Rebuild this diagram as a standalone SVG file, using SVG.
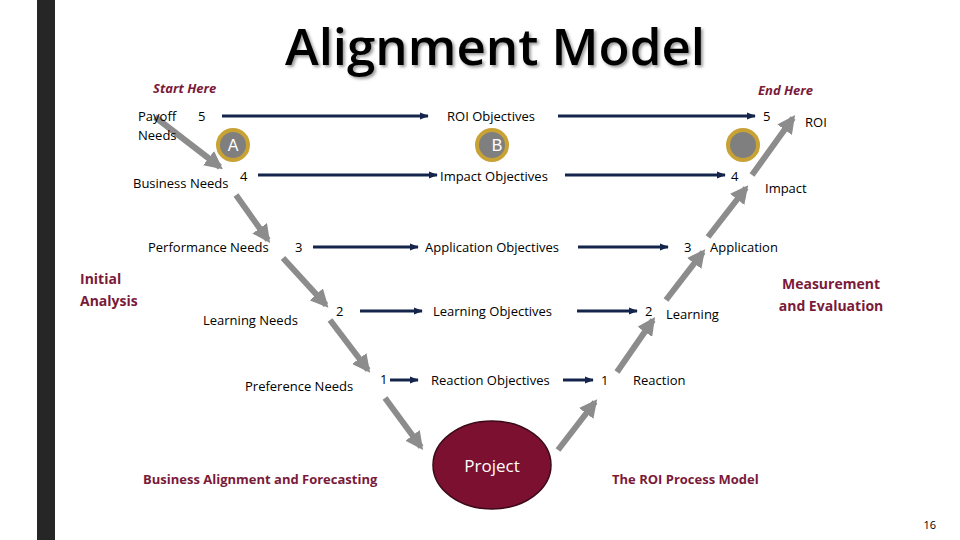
<svg xmlns="http://www.w3.org/2000/svg" width="960" height="540" viewBox="0 0 960 540">
<defs>
<marker id="nv" viewBox="0 0 10 10" refX="9" refY="5" markerWidth="3" markerHeight="3" orient="auto"><path d="M0,1 L10,5 L0,9 z" fill="#14244a"/></marker>
<marker id="gr" viewBox="0 0 10 10" refX="8" refY="5" markerWidth="3" markerHeight="3" orient="auto"><path d="M0,0 L10,5 L0,10 z" fill="#8c8c8c"/></marker>
<filter id="sh"><feDropShadow dx="2" dy="2" stdDeviation="1.5" flood-color="#000" flood-opacity="0.4"/></filter>
</defs>
<style>
text{font-family:"Open Sans","Noto Sans",sans-serif;font-size:13px;fill:#000}
.r{fill:#7a1a3a;font-weight:bold}
.i{font-style:italic}
.nv{stroke:#14244a;stroke-width:3;marker-end:url(#nv)}
.gr{stroke:#8c8c8c;stroke-width:6;marker-end:url(#gr)}
.c{fill:#7f7f7f;stroke:#c9a235;stroke-width:4}
</style>
<rect width="960" height="540" fill="#fff"/>
<rect x="37" y="0" width="18" height="540" fill="#262626"/>
<text x="495" y="65" text-anchor="middle" style="font-size:51px;font-weight:600" filter="url(#sh)">Alignment Model</text>
<text x="153" y="93" class="r i">Start Here</text>
<text x="758" y="95" class="r i">End Here</text>
<g id="connectors">
<line class="nv" x1="222" y1="116" x2="428" y2="116"/><line class="nv" x1="558" y1="116" x2="755" y2="116"/>
<line class="nv" x1="258" y1="175" x2="437" y2="175"/><line class="nv" x1="565" y1="175" x2="725" y2="175"/>
<line class="nv" x1="313" y1="247" x2="418" y2="247"/><line class="nv" x1="578" y1="247" x2="668" y2="247"/>
<line class="nv" x1="360" y1="311" x2="422" y2="311"/><line class="nv" x1="577" y1="311" x2="637" y2="311"/>
<line class="nv" x1="390" y1="380" x2="418" y2="380"/><line class="nv" x1="563" y1="380" x2="593" y2="380"/>
<line class="gr" x1="155" y1="117" x2="220" y2="167"/>
<line class="gr" x1="236" y1="195" x2="268" y2="240"/>
<line class="gr" x1="283" y1="258" x2="326" y2="305"/>
<line class="gr" x1="330" y1="320" x2="368" y2="370"/>
<line class="gr" x1="385" y1="398" x2="421" y2="447"/>
<line class="gr" x1="558" y1="450" x2="595" y2="402"/>
<line class="gr" x1="617" y1="372" x2="653" y2="320"/>
<line class="gr" x1="666" y1="300" x2="703" y2="252"/>
<line class="gr" x1="708" y1="237" x2="746" y2="188"/>
<line class="gr" x1="752" y1="175" x2="793" y2="118"/>
</g>
<g id="circles">
<circle class="c" cx="233" cy="145" r="15"/><text x="233" y="151" text-anchor="middle" style="fill:#fff;font-size:16px;font-family:'Liberation Sans',sans-serif">A</text>
<circle class="c" cx="492" cy="145" r="15"/><text x="497" y="151" text-anchor="middle" style="fill:#fff;font-size:16px;font-family:'Liberation Sans',sans-serif">B</text>
<circle class="c" cx="743" cy="145" r="15"/>
</g>
<g id="left">
<text x="138" y="121">Payoff</text><text x="138" y="140">Needs</text><text x="198" y="121">5</text>
<text x="133" y="188">Business Needs</text><text x="240" y="181">4</text>
<text x="148" y="252">Performance Needs</text><text x="295" y="252">3</text>
<text x="203" y="325">Learning  Needs</text><text x="336" y="316">2</text>
<text x="245" y="391">Preference Needs</text><text x="380" y="384">1</text>
</g>
<g id="mid">
<text x="447" y="121">ROI Objectives</text>
<text x="440" y="181">Impact Objectives</text>
<text x="425" y="252">Application Objectives</text>
<text x="433" y="316">Learning Objectives</text>
<text x="431" y="385">Reaction Objectives</text>
</g>
<g id="right">
<text x="763" y="121">5</text><text x="805" y="127">ROI</text>
<text x="731" y="181">4</text><text x="765" y="193">Impact</text>
<text x="684" y="252">3</text><text x="710" y="252">Application</text>
<text x="645" y="316">2</text><text x="666" y="319">Learning</text>
<text x="601" y="385">1</text><text x="633" y="385">Reaction</text>
</g>
<text x="80" y="284" class="r" style="font-size:14px">Initial</text><text x="80" y="306" class="r" style="font-size:14px">Analysis</text>
<text x="831" y="289" class="r" text-anchor="middle" style="font-size:14px">Measurement</text><text x="831" y="311" class="r" text-anchor="middle" style="font-size:14px">and Evaluation</text>
<g id="project"><ellipse cx="492" cy="465" rx="59" ry="44" fill="#7b1030" stroke="#3a0a18" stroke-width="1.5"/><text x="492" y="472" text-anchor="middle" style="fill:#fff;font-size:17px">Project</text></g>
<text x="143" y="484" class="r">Business Alignment and Forecasting</text>
<text x="612" y="484" class="r">The ROI Process Model</text>
<text x="936" y="529" text-anchor="end" style="font-size:11px">16</text>
</svg>
